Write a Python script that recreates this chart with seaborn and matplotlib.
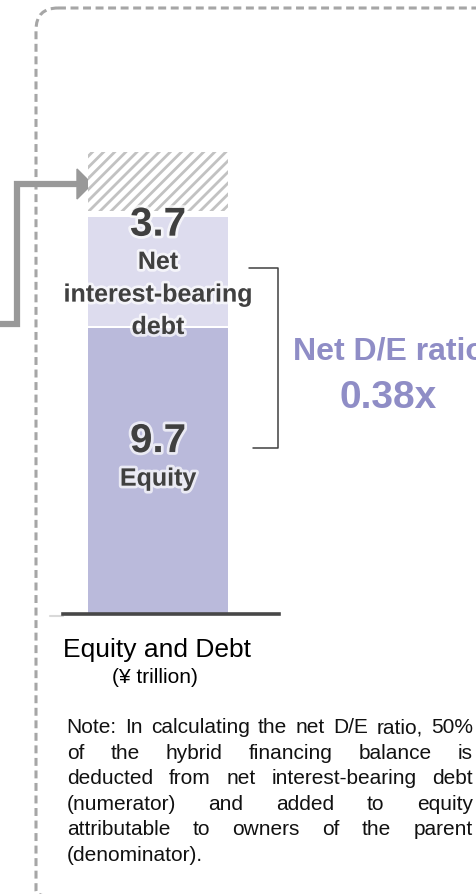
import numpy as np
import pandas as pd
import seaborn as sns
import matplotlib.pyplot as plt
import matplotlib.patheffects as pe
from matplotlib.patches import FancyBboxPatch, Polygon

# Chart values (¥ trillion)
categories = ["Equity and Debt"]
equity = [9.7]
net_debt = [3.7]
reduction = [2.0]          # hatched part above the debt segment
de_ratio = "0.38x"

note_lines = [
    "Note: In calculating the net D/E ratio, 50%",
    "of the hybrid financing balance is",
    "deducted from net interest-bearing debt",
    "(numerator) and added to equity",
    "attributable to owners of the parent",
    "(denominator).",
]

sns.set_style("white")
plt.rcParams['font.family'] = ['Liberation Sans', 'DejaVu Sans']
plt.rcParams['hatch.linewidth'] = 2.0

W, H = 477, 895
fig = plt.figure(figsize=(W / 100, H / 100), dpi=100)

# pixel overlay for frame, connector and notes
bg = fig.add_axes([0, 0, 1, 1])
bg.set_xlim(0, W)
bg.set_ylim(H, 0)
bg.axis("off")

frame = FancyBboxPatch((36, 9), 520, 905, boxstyle="round,pad=0,rounding_size=22",
                       fill=False, edgecolor="#a6a6a6", linewidth=2.2,
                       linestyle=(0, (2.6, 1.5)))
bg.add_patch(frame)

# connector arrow from the left
bg.plot([0, 17, 17, 78], [325, 325, 185, 185], color="#999999", lw=4.5,
        solid_joinstyle="miter", solid_capstyle="butt", zorder=5)
bg.add_patch(Polygon([[77, 170], [92, 185], [77, 200]], closed=True,
                     color="#999999", zorder=5))
bg.plot([50, 63], [617, 617], color="#d9d9d9", lw=1.5)

# main bar axes
ax = fig.add_axes([63 / W, 1 - 615 / H, 216.3 / W, 515 / H])
ax.set_facecolor("none")

df = pd.DataFrame({"item": categories, "equity": equity,
                   "debt": net_debt, "reduction": reduction})
gap1, gap2 = 0.09, 0.19
debt_bottom = df["equity"] + gap1
red_bottom = debt_bottom + df["debt"] + gap2

sns.barplot(data=df, x="item", y="equity", ax=ax, color="#babadb",
            width=0.8, linewidth=0, saturation=1)
sns.barplot(data=df, x="item", y="debt", ax=ax, color="#dddcee",
            width=0.8, linewidth=0, saturation=1, bottom=debt_bottom)
sns.barplot(data=df, x="item", y="reduction", ax=ax, color="white",
            width=0.8, linewidth=0, saturation=1, bottom=red_bottom)
for p in ax.containers[-1]:
    p.set_hatch("///")
    p.set_edgecolor("#c2c2c2")
    p.set_linewidth(0)

ax.set_xlim(-0.545, 0.696)
ax.set_ylim(0, 17.49)
ax.set_xlabel("")
ax.set_ylabel("")
ax.set_xticks([])
ax.set_yticks([])
for s in ["left", "right", "top"]:
    ax.spines[s].set_visible(False)
ax.spines["bottom"].set_color("#474747")
ax.spines["bottom"].set_linewidth(2.6)

glow = [pe.withStroke(linewidth=4, foreground="white", alpha=0.7)]
lab = dict(ha="center", va="baseline", color="#404040", fontweight="bold",
           path_effects=glow, zorder=6)
ax.text(0, 12.85, f"{net_debt[0]:.1f}", fontsize=29, **lab)
ax.text(0, 11.72, "Net", fontsize=18, **lab)
ax.text(0, 10.61, "interest-bearing", fontsize=18, **lab)
ax.text(0, 9.51, "debt", fontsize=18, **lab)
ax.text(0, 5.50, f"{equity[0]:.1f}", fontsize=29, **lab)
ax.text(0, 4.36, "Equity", fontsize=18, **lab)

# bracket
ax.plot([0.522, 0.689, 0.689, 0.543], [11.75, 11.75, 5.64, 5.64],
        color="#404040", lw=1.1, clip_on=False)

purple = "#8f8dc6"
bg.text(293, 359, "Net D/E ratio", fontsize=23, fontweight="bold",
        color=purple, va="baseline", ha="left")
bg.text(388, 408, de_ratio, fontsize=28, fontweight="bold",
        color=purple, va="baseline", ha="center")

bg.text(63, 657, categories[0], fontsize=19, color="black", va="baseline")
bg.text(112, 683, "(¥ trillion)", fontsize=15, color="black", va="baseline")

# justified note text
renderer = fig.canvas.get_renderer()
x0, x1 = 66.7, 472.7
for i, line in enumerate(note_lines):
    y = 733 + i * 25.6
    words = line.split(" ")
    texts = [bg.text(0, y, w, fontsize=15, color="#111111", va="baseline")
             for w in words]
    widths = [t.get_window_extent(renderer).width for t in texts]
    if i == len(note_lines) - 1 or len(words) == 1:
        space = 4.2
    else:
        space = (x1 - x0 - sum(widths)) / (len(words) - 1)
    x = x0
    for t, w in zip(texts, widths):
        t.set_x(x)
        x += w + space

fig.savefig("out.png", dpi=100)
